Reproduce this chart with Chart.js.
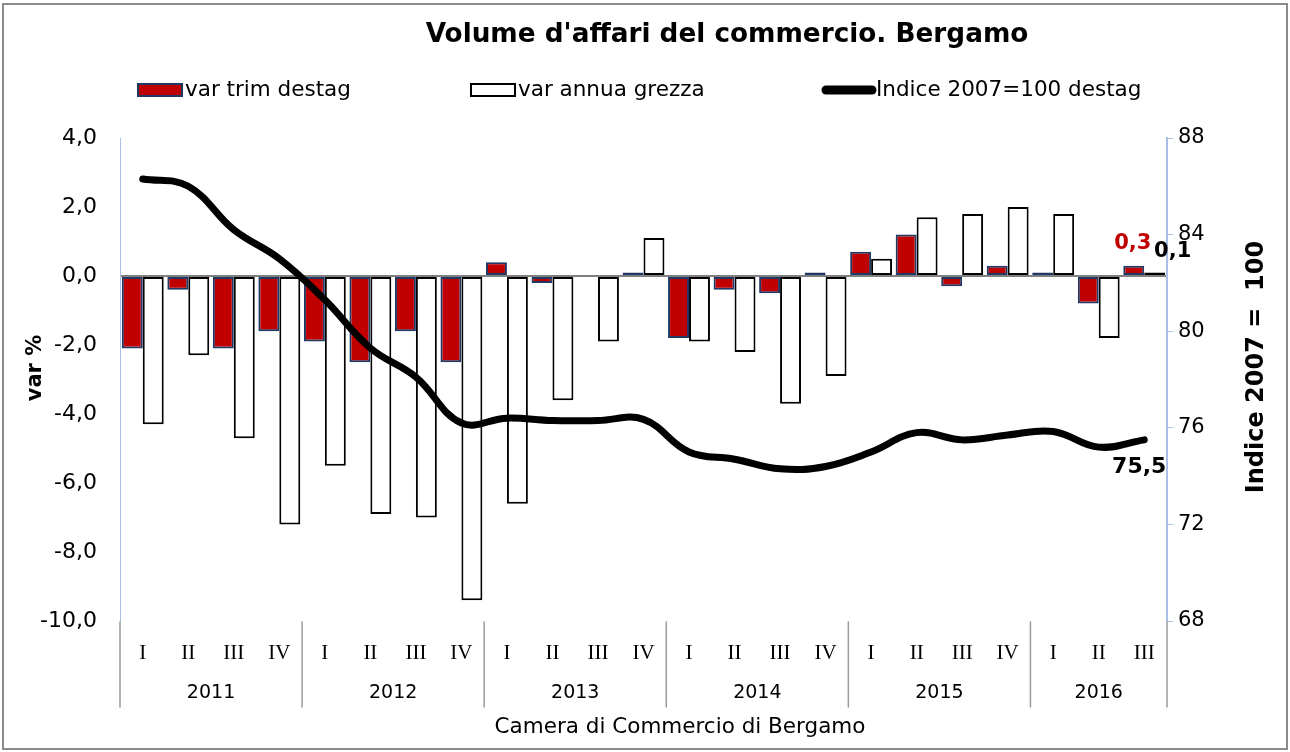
<!DOCTYPE html>
<html lang="it">

<head>
    <meta charset="UTF-8">
    <title>Volume d'affari del commercio. Bergamo</title>
    <script src="https://cdn.jsdelivr.net/npm/chart.js"></script>
    <style>
        body { margin: 0; background: #fff; }
    </style>
</head>

<body>
    <canvas id="chart" width="1290" height="752"></canvas>

    <script>
        // categorie: trimestri, raggruppati per anno
        var quarterLabels = ['I', 'II', 'III', 'IV', 'I', 'II', 'III', 'IV', 'I', 'II', 'III', 'IV',
            'I', 'II', 'III', 'IV', 'I', 'II', 'III', 'IV', 'I', 'II', 'III'];
        var yearLabels = ['2011', '2012', '2013', '2014', '2015', '2016'];
        var quartersInYear = [4, 4, 4, 4, 4, 3];

        // var % congiunturale destagionalizzata
        var varTrim = [-2.1, -0.4, -2.1, -1.6, -1.9, -2.5, -1.6, -2.5, 0.4, -0.2, 0.02, 0.1,
            -1.8, -0.4, -0.5, 0.1, 0.7, 1.2, -0.3, 0.3, 0.1, -0.8, 0.3];
        // var % tendenziale grezza
        var varAnnua = [-4.3, -2.3, -4.7, -7.2, -5.5, -6.9, -7.0, -9.4, -6.6, -3.6, -1.9, 1.1,
            -1.9, -2.2, -3.7, -2.9, 0.5, 1.7, 1.8, 2.0, 1.8, -1.8, 0.1];
        // indice 2007=100 destagionalizzato
        var indice = [86.3, 86.0, 84.2, 83.0, 81.3, 79.3, 78.1, 76.2, 76.4, 76.3, 76.3, 76.35,
            75.0, 74.7, 74.3, 74.4, 75.0, 75.8, 75.5, 75.7, 75.85, 75.2, 75.5];

        var leftTicks = { min: -10, max: 4, step: 2 };
        var rightTicks = { min: 68, max: 88, step: 4 };

        var SANS = '"DejaVu Sans", Verdana, sans-serif';
        var SERIF = '"Liberation Serif", "Times New Roman", serif';
        var AXIS_BLUE = '#a9c0e6';

        function fmt(v) {
            return v.toFixed(1).replace('.', ',');
        }

        // testi, legenda, anni e cornice disegnati a mano
        var decorations = {
            id: 'decorations',
            afterDraw: function (chart) {
                var ctx = chart.ctx;
                var x = chart.scales.x;
                var area = chart.chartArea;
                ctx.save();

                // cornice esterna
                ctx.strokeStyle = '#8c8c8c';
                ctx.lineWidth = 2;
                ctx.strokeRect(3, 4, 1284, 745);

                ctx.fillStyle = '#000';
                ctx.textBaseline = 'middle';
                ctx.textAlign = 'center';
                ctx.font = 'bold 26.3px ' + SANS;
                ctx.fillText("Volume d'affari del commercio. Bergamo", 727, 35);

                // legenda
                ctx.font = '21.5px ' + SANS;
                ctx.textAlign = 'left';
                var ds = chart.data.datasets;
                var legendX = [137, 470, 822];
                var ly = 90;
                ds.forEach(function (d, i) {
                    var lx = legendX[i];
                    if (d.type === 'line') {
                        ctx.strokeStyle = d.borderColor;
                        ctx.lineWidth = 9;
                        ctx.lineCap = 'round';
                        ctx.beginPath();
                        ctx.moveTo(lx + 4, ly);
                        ctx.lineTo(lx + 50, ly);
                        ctx.stroke();
                        ctx.fillText(d.label, lx + 54, ly);
                    } else {
                        ctx.fillStyle = d.backgroundColor;
                        ctx.fillRect(lx, ly - 7, 46, 14);
                        ctx.strokeStyle = d.borderColor;
                        ctx.lineWidth = 2;
                        ctx.strokeRect(lx + 1, ly - 6, 44, 12);
                        ctx.fillStyle = '#000';
                        ctx.fillText(d.label, lx + 48, ly);
                    }
                });

                // titoli degli assi verticali
                ctx.textAlign = 'center';
                ctx.font = 'bold 21px ' + SANS;
                ctx.save();
                ctx.translate(36, 368);
                ctx.rotate(-Math.PI / 2);
                ctx.fillText('var %', 0, 0);
                ctx.restore();
                ctx.font = 'bold 24px ' + SANS;
                ctx.save();
                ctx.translate(1257, 367);
                ctx.rotate(-Math.PI / 2);
                ctx.fillText('Indice 2007 =  100', 0, 0);
                ctx.restore();

                // anni sotto i trimestri, con separatori
                ctx.strokeStyle = '#9a9a9a';
                ctx.lineWidth = 1.5;
                ctx.font = '19px ' + SANS;
                var start = 0;
                yearLabels.forEach(function (y, i) {
                    var n = quartersInYear[i];
                    var left = x.getPixelForValue(start - 0.5);
                    var right = x.getPixelForValue(start + n - 0.5);
                    ctx.beginPath();
                    ctx.moveTo(left, area.bottom + 1);
                    ctx.lineTo(left, area.bottom + 86);
                    if (i === yearLabels.length - 1) {
                        ctx.moveTo(right, area.bottom + 1);
                        ctx.lineTo(right, area.bottom + 86);
                    }
                    ctx.stroke();
                    ctx.fillText(y, (left + right) / 2, area.bottom + 72);
                    start += n;
                });

                ctx.font = '21.5px ' + SANS;
                ctx.fillText('Camera di Commercio di Bergamo', 680, 727);

                // etichette dei valori sull'ultimo trimestre
                var last = quarterLabels.length - 1;
                ctx.font = 'bold 21px ' + SANS;
                var trimBar = chart.getDatasetMeta(0).data[last];
                ctx.fillStyle = '#c00000';
                ctx.fillText(fmt(varTrim[last]), trimBar.x - 1, trimBar.y - 22);
                var annuaBar = chart.getDatasetMeta(1).data[last];
                ctx.fillStyle = '#000';
                ctx.fillText(fmt(varAnnua[last]), annuaBar.x + 18, annuaBar.y - 21);
                var pt = chart.getDatasetMeta(2).data[last];
                ctx.font = 'bold 22px ' + SANS;
                ctx.fillText(fmt(indice[last]), pt.x - 5, pt.y + 27);

                ctx.restore();
            }
        };

        var chart = new Chart(document.getElementById('chart').getContext('2d'), {
            data: {
                labels: quarterLabels,
                datasets: [{
                    type: 'bar',
                    label: 'var trim destag',
                    data: varTrim,
                    yAxisID: 'y',
                    backgroundColor: '#c00000',
                    borderColor: '#1f3864',
                    borderWidth: 2,
                    borderSkipped: false,
                    categoryPercentage: 0.92,
                    barPercentage: 1.0,
                    order: 1
                }, {
                    type: 'bar',
                    label: 'var annua grezza',
                    data: varAnnua,
                    yAxisID: 'y',
                    backgroundColor: '#ffffff',
                    borderColor: '#000',
                    borderWidth: 2,
                    borderSkipped: false,
                    categoryPercentage: 0.92,
                    barPercentage: 1.0,
                    order: 1
                }, {
                    type: 'line',
                    label: 'Indice 2007=100 destag',
                    data: indice,
                    yAxisID: 'y1',
                    borderColor: '#000',
                    borderWidth: 7,
                    borderCapStyle: 'round',
                    tension: 0.4,
                    pointRadius: 0,
                    order: 0
                }]
            },
            options: {
                responsive: false,
                animation: false,
                devicePixelRatio: 1,
                layout: { padding: { top: 138, left: 0, right: 0, bottom: 0 } },
                plugins: {
                    legend: { display: false },
                    title: { display: false },
                    tooltip: { enabled: false }
                },
                scales: {
                    x: {
                        grid: { display: false, drawTicks: false },
                        border: { display: false },
                        ticks: {
                            color: '#000',
                            padding: 20,
                            maxRotation: 0,
                            autoSkip: false,
                            font: { family: SERIF, size: 21 }
                        },
                        afterFit: function (s) { s.height = 131; }
                    },
                    y: {
                        position: 'left',
                        min: leftTicks.min,
                        max: leftTicks.max,
                        border: { color: AXIS_BLUE, width: 1 },
                        grid: {
                            drawTicks: false,
                            lineWidth: 2,
                            color: function (c) {
                                return c.tick && c.tick.value === 0 ? '#808080' : 'rgba(0,0,0,0)';
                            }
                        },
                        ticks: {
                            stepSize: leftTicks.step,
                            color: '#000',
                            padding: 23,
                            font: { family: SANS, size: 22 },
                            callback: function (v) { return fmt(v); }
                        },
                        afterFit: function (s) { s.width = 120; }
                    },
                    y1: {
                        position: 'right',
                        min: rightTicks.min,
                        max: rightTicks.max,
                        border: { color: AXIS_BLUE, width: 2 },
                        grid: {
                            drawOnChartArea: false,
                            color: AXIS_BLUE,
                            tickLength: 6
                        },
                        ticks: {
                            stepSize: rightTicks.step,
                            color: '#000',
                            padding: 5,
                            font: { family: SANS, size: 21 }
                        },
                        afterFit: function (s) { s.width = 1290 - 1167; }
                    }
                }
            },
            plugins: [decorations]
        });
    </script>
</body>

</html>
